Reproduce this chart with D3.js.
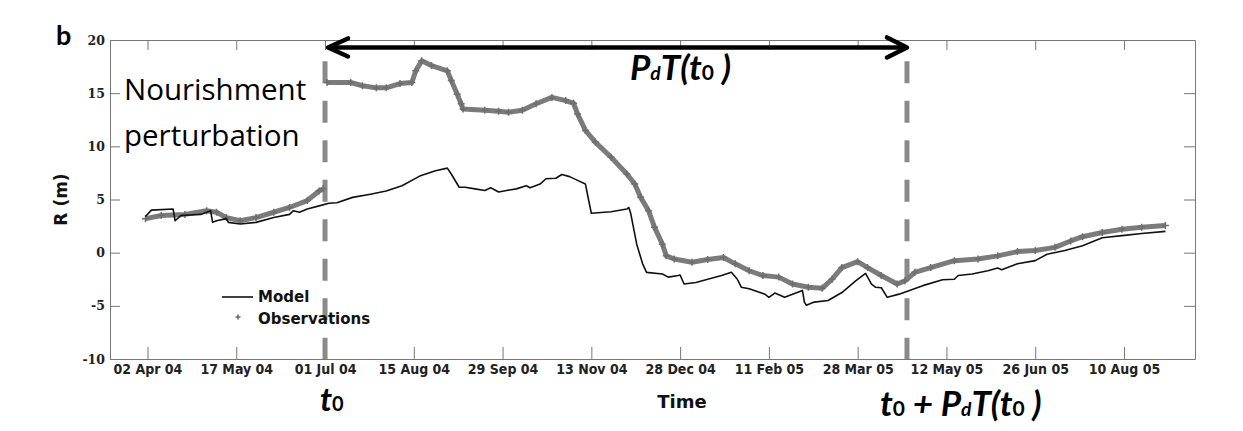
<!DOCTYPE html>
<html lang="en">
  <head>
    <meta charset="utf-8">
    <script src="https://cdnjs.cloudflare.com/ajax/libs/d3/7.8.5/d3.min.js"></script>
    <style>
      body { margin: 0; background: #fff; }
      .axis path, .axis line { stroke: #777; stroke-width: 1; }
      .xaxis text { font-family: 'DejaVu Sans Condensed', 'DejaVu Sans', sans-serif; font-stretch: condensed; font-weight: bold; font-size: 14px; fill: #222; }
      .yaxis text { font-family: 'DejaVu Serif', serif; font-weight: bold; font-size: 12.5px; fill: #222; }
      .calibri { font-family: Lato, 'Open Sans', sans-serif; }
      .lab { font-family: 'DejaVu Sans', sans-serif; font-weight: bold; fill: #111; }
    </style>
  </head>
  <body>
  <script>
  // ---- data ----
  var obsDates = ['2004-04-01','2004-04-09','2004-04-21','2004-05-02','2004-05-07','2004-05-12','2004-05-19','2004-05-27',
    '2004-06-05','2004-06-13','2004-06-22','2004-06-28','2004-06-30','2004-07-01','2004-07-02','2004-07-14','2004-07-20',
    '2004-07-27','2004-08-01','2004-08-08','2004-08-14','2004-08-16','2004-08-19','2004-08-24','2004-09-01','2004-09-03',
    '2004-09-06','2004-09-08','2004-09-09','2004-09-20','2004-09-27','2004-10-02','2004-10-09','2004-10-16','2004-10-24',
    '2004-10-31','2004-11-04','2004-11-06','2004-11-10','2004-11-15','2004-11-23','2004-12-01','2004-12-05','2004-12-08',
    '2004-12-12','2004-12-15','2004-12-19','2004-12-21','2004-12-25','2005-01-03','2005-01-11','2005-01-19','2005-01-25',
    '2005-02-01','2005-02-08','2005-02-16','2005-02-23','2005-03-03','2005-03-10','2005-03-15','2005-03-20','2005-03-28',
    '2005-04-02','2005-04-09','2005-04-17','2005-04-21','2005-04-26','2005-05-04','2005-05-16','2005-05-28','2005-06-07',
    '2005-06-17','2005-06-26','2005-07-06','2005-07-14','2005-07-20','2005-07-30','2005-08-09','2005-08-19','2005-08-31'];
  var obsR = [3.2,3.5,3.6,3.95,3.8,3.3,3.0,3.3,
    3.8,4.25,4.9,5.8,6.0,null,16.0,16.0,15.7,
    15.5,15.5,15.9,16.0,17.1,18.05,17.6,17.1,16.2,
    14.9,14.0,13.5,13.4,13.3,13.2,13.4,14.0,14.6,
    14.3,14.05,13.05,11.5,10.4,8.97,7.4,6.45,5.2,
    3.95,2.4,0.8,-0.3,-0.6,-0.9,-0.65,-0.45,-1.05,
    -1.7,-2.15,-2.3,-2.95,-3.25,-3.35,-2.5,-1.4,-0.85,
    -1.4,-2.15,-2.95,-2.65,-1.85,-1.4,-0.75,-0.6,-0.3,
    0.1,0.2,0.5,1.1,1.5,1.9,2.2,2.4,2.55];

  var modelDates = ['2004-04-01','2004-04-04','2004-04-15','2004-04-16','2004-04-19','2004-04-29','2004-05-04','2004-05-05',
    '2004-05-07','2004-05-12','2004-05-13','2004-05-19','2004-05-27','2004-06-05','2004-06-13','2004-06-15','2004-06-18',
    '2004-06-22','2004-06-28','2004-07-03','2004-07-07','2004-07-15','2004-07-24','2004-08-01','2004-08-09','2004-08-18',
    '2004-08-26','2004-09-01','2004-09-03','2004-09-07','2004-09-10','2004-09-15','2004-09-20','2004-09-23','2004-09-27',
    '2004-10-01','2004-10-06','2004-10-11','2004-10-13','2004-10-18','2004-10-21','2004-10-26','2004-10-29','2004-11-02',
    '2004-11-06','2004-11-10','2004-11-12','2004-11-13','2004-11-23','2004-12-01','2004-12-02','2004-12-03','2004-12-06',
    '2004-12-09','2004-12-11','2004-12-19','2004-12-22','2004-12-27','2004-12-28','2004-12-30','2005-01-05','2005-01-11',
    '2005-01-18','2005-01-23','2005-01-26','2005-01-28','2005-02-01','2005-02-09','2005-02-11','2005-02-14','2005-02-19',
    '2005-02-28','2005-03-01','2005-03-02','2005-03-06','2005-03-13','2005-03-20','2005-03-27','2005-04-01','2005-04-04',
    '2005-04-06','2005-04-09','2005-04-12','2005-04-18','2005-04-30','2005-05-10','2005-05-16','2005-05-18','2005-05-25',
    '2005-06-02','2005-06-07','2005-06-09','2005-06-17','2005-06-26','2005-07-02','2005-07-11','2005-07-20','2005-07-30',
    '2005-08-09','2005-08-19','2005-08-31'];
  var modelR = [3.4,4.0,4.1,3.0,3.5,3.6,3.95,2.85,
    3.0,3.2,2.85,2.7,2.85,3.3,3.6,3.95,3.8,
    4.1,4.4,4.65,4.7,5.2,5.5,5.8,6.3,7.2,
    7.7,7.95,7.4,6.15,6.15,6.0,5.85,6.1,5.7,
    5.85,6.0,6.3,6.1,6.45,6.95,7.0,7.35,7.15,
    6.8,6.45,4.6,3.7,3.85,4.1,4.25,3.65,0.8,
    -1.05,-1.85,-2.0,-2.3,-2.15,-2.1,-2.95,-2.8,-2.5,
    -2.15,-1.85,-2.5,-3.25,-3.4,-3.9,-4.2,-3.8,-4.2,
    -3.55,-4.65,-4.95,-4.65,-4.5,-3.75,-2.65,-1.95,-2.95,
    -3.25,-3.3,-4.2,-3.9,-3.1,-2.55,-2.5,-2.15,-2.0,
    -1.7,-1.45,-1.6,-1.05,-0.75,-0.15,0.2,0.65,1.4,
    1.6,1.8,2.0];

  var tickDates = ['2004-04-02','2004-05-17','2004-07-01','2004-08-15','2004-09-29','2004-11-13',
    '2004-12-28','2005-02-11','2005-03-28','2005-05-12','2005-06-26','2005-08-10'];
  var yTicks = [-10, -5, 0, 5, 10, 15, 20];
  var t0Date = '2004-07-01', t1Date = '2005-04-22';

  var width = 1243, height = 431;
  var margin = {top: 40, right: 48, bottom: 72, left: 110};
  var parse = d3.utcParse('%Y-%m-%d');

  var svg = d3.select('body').append('svg')
    .attr('width', width).attr('height', height);

  var x = d3.scaleUtc()
    .domain([parse('2004-03-14'), parse('2005-09-15')])
    .range([margin.left, width - margin.right]);
  var y = d3.scaleLinear()
    .domain([-10, 20])
    .range([height - margin.bottom, margin.top]);

  var fmt = d3.utcFormat('%d %b %y');
  var ticks = tickDates.map(parse);

  // axes (ticks inward, mirrored on top/right)
  svg.append('g').attr('class', 'axis xaxis')
    .attr('transform', 'translate(0,' + y(-10) + ')')
    .call(d3.axisBottom(x).tickValues(ticks).tickFormat(fmt).tickSizeInner(-12).tickSizeOuter(0).tickPadding(10));
  svg.append('g').attr('class', 'axis')
    .attr('transform', 'translate(0,' + y(20) + ')')
    .call(d3.axisTop(x).tickValues(ticks).tickFormat('').tickSizeInner(-10).tickSizeOuter(0));
  svg.append('g').attr('class', 'axis yaxis')
    .attr('transform', 'translate(' + x.range()[0] + ',0)')
    .call(d3.axisLeft(y).tickValues(yTicks).tickFormat(d => String(d)).tickSizeInner(-10).tickSizeOuter(0).tickPadding(5));
  svg.append('g').attr('class', 'axis')
    .attr('transform', 'translate(' + x.range()[1] + ',0)')
    .call(d3.axisRight(y).tickValues(yTicks).tickFormat('').tickSizeInner(-11).tickSizeOuter(0));
  svg.selectAll('.xaxis .tick text').attr('dy', '0.35em');

  // dashed markers for t0 and t0 + PdT(t0)
  svg.selectAll('.vdash')
    .data([t0Date, t1Date])
    .enter().append('line')
      .attr('x1', d => x(parse(d))).attr('x2', d => x(parse(d)))
      .attr('y1', y(18)).attr('y2', y(-10))
      .attr('stroke', '#8a8a8a').attr('stroke-width', 5)
      .attr('stroke-dasharray', '22,17.5');

  // observations: thick grey band of '+' markers
  var obs = obsDates.map((d, i) => [parse(d), obsR[i]]);
  var line = d3.line()
    .defined(d => d[1] != null)
    .x(d => x(d[0])).y(d => y(d[1]));
  svg.append('path')
    .datum(obs)
    .attr('fill', 'none').attr('stroke', '#7b7b7b')
    .attr('stroke-width', 5).attr('stroke-linejoin', 'round')
    .attr('d', line);
  var cross = 'M-3.5,0H3.5M0,-3.5V3.5';
  svg.append('g').selectAll('path')
    .data(obs.filter(d => d[1] != null))
    .enter().append('path')
      .attr('transform', d => 'translate(' + x(d[0]) + ',' + y(d[1]) + ')')
      .attr('d', cross).attr('stroke', '#6e6e6e').attr('stroke-width', 1.5);

  // model
  var model = modelDates.map((d, i) => [parse(d), modelR[i]]);
  svg.append('path')
    .datum(model)
    .attr('fill', 'none').attr('stroke', '#111')
    .attr('stroke-width', 1.6).attr('stroke-linejoin', 'round')
    .attr('d', line);

  // double arrow
  var ay = y(19.3), ax0 = x(parse(t0Date)) + 3, ax1 = x(parse(t1Date));
  var arrow = svg.append('g').attr('stroke', '#000').attr('stroke-width', 4.5)
    .attr('fill', 'none').attr('stroke-linecap', 'round').attr('stroke-linejoin', 'round');
  arrow.append('line').attr('x1', ax0 + 2).attr('x2', ax1 - 2).attr('y1', ay).attr('y2', ay);
  arrow.append('path').attr('d', 'M' + (ax0 + 20) + ',' + (ay - 9) + 'L' + ax0 + ',' + ay + 'L' + (ax0 + 20) + ',' + (ay + 9));
  arrow.append('path').attr('d', 'M' + (ax1 - 20) + ',' + (ay - 10) + 'L' + ax1 + ',' + ay + 'L' + (ax1 - 20) + ',' + (ay + 10));

  // PdT(t0) label above the plot line
  function pdt(t, size) {
    t.append('tspan').text('P');
    t.append('tspan').attr('font-size', size * 0.55).text('d');
    t.append('tspan').text('T(t');
    t.append('tspan').attr('font-size', size * 0.6).attr('font-style', 'normal').text('0');
    t.append('tspan').text(' )');
  }
  var lt = svg.append('text').attr('class', 'calibri')
    .attr('x', 630).attr('y', 80)
    .attr('font-size', 35).attr('font-weight', 'bold').attr('font-style', 'italic');
  pdt(lt, 35);

  // Nourishment perturbation
  svg.append('text').attr('x', 124).attr('y', 100)
    .attr('font-family', "'Open Sans', Lato, sans-serif")
    .attr('font-size', 29.5).attr('fill', '#000').text('Nourishment');
  svg.append('text').attr('x', 124).attr('y', 146)
    .attr('font-family', "'Open Sans', Lato, sans-serif")
    .attr('font-size', 29.5).attr('fill', '#000').text('perturbation');

  // panel letter
  svg.append('text').attr('class', 'calibri').attr('x', 56).attr('y', 45)
    .attr('font-size', 27).attr('font-weight', 'bold').text('b');

  // axis titles
  svg.append('text').attr('class', 'lab')
    .attr('transform', 'translate(67,' + y(5) + ') rotate(-90)')
    .attr('text-anchor', 'middle').attr('font-size', 17).text('R (m)');
  svg.append('text').attr('class', 'lab')
    .attr('x', 682).attr('y', 408).attr('text-anchor', 'middle')
    .attr('font-size', 18).text('Time');

  // t0 and t0 + PdT(t0) under the axis
  var b0 = svg.append('text').attr('class', 'calibri').attr('x', 320).attr('y', 411)
    .attr('font-size', 33).attr('font-weight', 'bold').attr('font-style', 'italic');
  b0.append('tspan').text('t');
  b0.append('tspan').attr('font-size', 20).attr('font-style', 'normal').text('0');
  var b1 = svg.append('text').attr('class', 'calibri').attr('x', 880).attr('y', 416)
    .attr('font-size', 35).attr('font-weight', 'bold').attr('font-style', 'italic');
  b1.append('tspan').text('t');
  b1.append('tspan').attr('font-size', 21).attr('font-style', 'normal').text('0');
  b1.append('tspan').text(' + ');
  pdt(b1, 35);

  // legend
  var lg = svg.append('g').attr('transform', 'translate(222,297)');
  lg.append('line').attr('x1', 0).attr('x2', 31).attr('stroke', '#111').attr('stroke-width', 1.6);
  lg.append('path').attr('transform', 'translate(16,20)').attr('d', 'M-2.5,0H2.5M0,-2.5V2.5')
    .attr('stroke', '#6a6a6a').attr('stroke-width', 1.6);
  lg.append('text').attr('class', 'lab').attr('x', 36).attr('y', 5).attr('font-size', 15).text('Model');
  lg.append('text').attr('class', 'lab').attr('x', 36).attr('y', 27).attr('font-size', 15).text('Observations');
  </script>
  </body>
</html>
